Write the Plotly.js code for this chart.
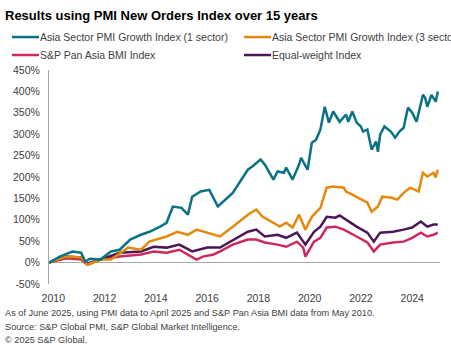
<!DOCTYPE html>
<html>
<head>
<meta charset="utf-8">
<script src="https://cdn.plot.ly/plotly-3.0.1.min.js"></script>
<style>html,body{margin:0;padding:0;background:#fff;}#chart{width:451px;height:351px;}</style>
</head>
<body>
<div id="chart"></div>
<script>
// Asia Sector PMI Growth Index (1 sector)
const sector1Dates = ['2010-05','2010-10','2011-04','2011-08','2011-10','2011-12','2012-05','2012-10','2013-02','2013-07','2013-12','2014-04','2014-09','2014-12','2015-03','2015-07','2015-10','2015-12','2016-04','2016-08','2016-12','2017-03','2017-07','2018-02','2018-04','2018-08','2018-10','2019-02','2019-04','2019-07','2019-08','2019-11','2020-02','2020-03','2020-06','2020-08','2020-10','2020-12','2021-02','2021-04','2021-06','2021-09','2021-12','2022-01','2022-03','2022-05','2022-07','2022-08','2022-10','2022-12','2023-02','2023-03','2023-04','2023-06','2023-09','2023-11','2024-01','2024-03','2024-05','2024-07','2024-09','2024-12','2025-01','2025-02','2025-04','2025-06','2025-07'];
const sector1Values = [0,14,26,23,2,9,7,26,30,54,65,72,84,93,131,128,112,154,166,170,131,145,163,217,224,241,229,194,213,210,222,194,229,245,217,280,287,311,364,327,353,329,346,329,353,327,318,306,311,264,283,259,299,318,306,292,306,315,362,350,329,392,385,364,392,376,400];

// Asia Sector PMI Growth Index (3 sectors)
const sector3Dates = ['2010-05','2011-01','2011-08','2011-11','2012-05','2012-10','2013-06','2013-12','2014-04','2014-12','2015-05','2015-10','2016-02','2016-07','2017-01','2017-07','2018-02','2018-06','2018-09','2019-02','2019-05','2019-08','2019-11','2020-02','2020-05','2020-08','2020-12','2021-03','2021-06','2021-11','2021-12','2022-03','2022-07','2022-10','2022-12','2023-03','2023-05','2023-09','2023-12','2024-03','2024-06','2024-10','2024-12','2025-02','2025-05','2025-06','2025-07'];
const sector3Values = [0,14,12,-5,7,7,35,30,49,61,72,65,77,70,61,84,112,124,107,93,84,93,82,112,77,107,128,175,178,175,166,159,147,140,119,131,154,152,147,163,175,166,210,201,210,199,217];

// S&P Pan Asia BMI Index
const bmiDates = ['2010-05','2011-01','2011-08','2011-11','2012-05','2013-02','2013-12','2014-06','2014-12','2015-06','2016-02','2016-05','2016-10','2017-01','2017-07','2018-02','2018-06','2018-10','2019-04','2019-08','2020-01','2020-04','2020-05','2020-09','2020-12','2021-03','2021-07','2021-11','2022-05','2022-10','2023-01','2023-04','2023-10','2024-03','2024-07','2024-11','2025-02','2025-05','2025-07'];
const bmiValues = [0,10,7,-5,7,14,19,26,23,30,7,14,19,26,42,54,54,47,42,37,49,35,14,49,58,82,84,77,61,47,26,42,47,49,58,70,61,65,70];

// Equal-weight Index
const eqDates = ['2010-05','2011-01','2011-08','2011-11','2012-05','2013-02','2013-12','2014-06','2014-12','2015-06','2015-12','2016-07','2017-01','2017-07','2018-02','2018-06','2018-10','2019-04','2019-08','2020-01','2020-04','2020-05','2020-09','2020-12','2021-03','2021-07','2021-09','2021-12','2022-05','2022-10','2023-01','2023-04','2023-10','2024-03','2024-07','2024-11','2025-02','2025-05','2025-07'];
const eqValues = [0,14,12,-2,7,23,26,37,35,42,26,35,35,52,72,77,61,65,58,70,49,42,72,84,107,105,110,100,84,70,49,70,72,77,82,96,84,89,89];

const seriesNames = ['Asia Sector PMI Growth Index (1 sector)','Asia Sector PMI Growth Index (3 sectors)','S&P Pan Asia BMI Index','Equal-weight Index'];
const seriesColors = ['#0b7285','#e5890c','#cc2a5e','#4a1858'];
const yTickVals = [-50,0,50,100,150,200,250,300,350,400,450];
const yTickText = yTickVals.map(v => v + '%');

const FONT = 'Liberation Sans, Arial, sans-serif';
const TXT = '#404040';

const seriesX = [sector1Dates, sector3Dates, bmiDates, eqDates];
const seriesY = [sector1Values, sector3Values, bmiValues, eqValues];
const traces = seriesNames.map((n, i) => ({x: seriesX[i], y: seriesY[i], name: n, type: 'scatter', mode: 'lines', line: {color: seriesColors[i], width: 2.5}}));
// draw order: pink, purple, orange, teal on top
const ordered = [traces[2], traces[3], traces[1], traces[0]];

// legend built from layout annotations + sample lines (pixel placement -> paper coords)
const L = 49, W = 391, B = 284.4, H = 214.4;
const px = v => (v - L) / W;
const py = v => (B - v) / H;
const legendPos = [[12, 37], [244, 37], [12, 55], [244, 55]];
const legendShapes = legendPos.map((p, i) => ({type: 'line', xref: 'paper', yref: 'paper', x0: px(p[0]), x1: px(p[0] + 27), y0: py(p[1]), y1: py(p[1]), line: {color: seriesColors[i], width: 2.5}}));
const legendTexts = legendPos.map((p, i) => ({text: seriesNames[i], xref: 'paper', yref: 'paper', x: px(p[0] + 28), xanchor: 'left', y: py(p[1]), yanchor: 'middle', showarrow: false, font: {family: FONT, size: 10.5, color: TXT}, xshift: -2}));

const notes = ['As of June 2025, using PMI data to April 2025 and S&P Pan Asia BMI data from May 2010.', 'Source: S&P Global PMI, S&P Global Market Intelligence.', '© 2025 S&P Global.'];
const noteY = [313, 327.5, 341];
const noteAnn = notes.map((t, i) => ({text: t, xref: 'paper', yref: 'paper', x: px(5), xanchor: 'left', y: py(noteY[i]), yanchor: 'middle', showarrow: false, font: {family: FONT, size: 9.2, color: TXT}, xshift: -2}));

const layout = {
  width: 451, height: 351,
  margin: {l: 49, r: 11, t: 70, b: 67},
  paper_bgcolor: '#fff', plot_bgcolor: '#fff',
  font: {family: FONT, size: 10.5, color: TXT},
  title: {text: '<b>Results using PMI New Orders Index over 15 years</b>', xref: 'container', yref: 'container', x: 5/451, xanchor: 'left', y: 1 - 15/351, yanchor: 'middle', font: {family: FONT, size: 13, color: '#000'}},
  showlegend: false,
  xaxis: {type: 'date', range: ['2010-05-01', '2025-08-01'], tick0: '2010-07-01', dtick: 'M24', tickformat: '%Y', showgrid: false, zeroline: false, showline: false, ticks: 'outside', ticklen: 4, tickcolor: 'rgba(0,0,0,0)', tickfont: {family: FONT, size: 10.5, color: TXT}, fixedrange: true},
  yaxis: {range: [-50, 450], tickvals: yTickVals, ticktext: yTickText, showgrid: false, zeroline: true, zerolinecolor: '#a6a6a6', zerolinewidth: 1, showline: true, linecolor: '#a6a6a6', linewidth: 1, ticks: 'outside', ticklen: 6, tickcolor: 'rgba(0,0,0,0)', tickfont: {family: FONT, size: 10.5, color: TXT}, fixedrange: true},
  shapes: legendShapes,
  annotations: legendTexts.concat(noteAnn)
};

Plotly.newPlot('chart', ordered, layout, {displayModeBar: false, staticPlot: true});
</script>
</body>
</html>
